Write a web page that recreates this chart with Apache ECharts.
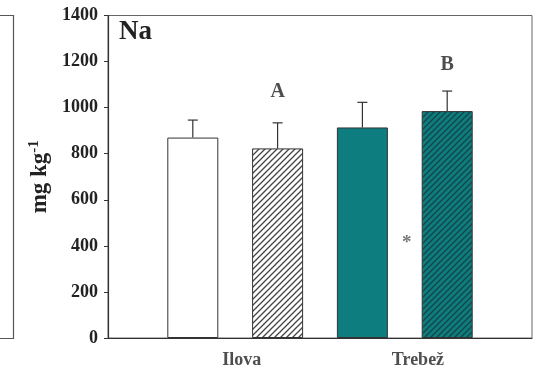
<!DOCTYPE html>
<html>
<head>
<meta charset="utf-8">
<script src="https://cdn.jsdelivr.net/npm/echarts@6/dist/echarts.min.js"></script>
<style>
  html, body { margin: 0; padding: 0; background: #fff; }
  #chart { width: 536px; height: 375px; }
</style>
</head>
<body>
<div id="chart"></div>
<script>
// Sodium content per site and treatment (mean, upper SD)
const groups = ['Ilova', 'Trebež'];
const means = [870, 823, 914, 985];
const sds = [76, 111, 109, 87];
const letters = ['', 'A', '', 'B'];
const yTicks = [0, 200, 400, 600, 800, 1000, 1200, 1400];

const SERIF = '"Liberation Serif", "Times New Roman", serif';
const TEAL = '#0e7d7f';
const INK = '#333';

// diagonal hatch tile ("/" direction)
function hatch(bg, line) {
  const s = 6;
  const c = document.createElement('canvas');
  c.width = s; c.height = s;
  const g = c.getContext('2d');
  g.fillStyle = bg;
  g.fillRect(0, 0, s, s);
  g.strokeStyle = line;
  g.lineWidth = 1.3;
  g.beginPath();
  g.moveTo(0, s); g.lineTo(s, 0);
  g.moveTo(-1, 1); g.lineTo(1, -1);
  g.moveTo(s - 1, s + 1); g.lineTo(s + 1, s - 1);
  g.stroke();
  return c;
}

const fills = [
  '#ffffff',
  { image: hatch('#ffffff', '#444'), repeat: 'repeat' },
  TEAL,
  { image: hatch(TEAL, '#154445'), repeat: 'repeat' }
];

// bars sit at x = 1..4, two per site
const xs = means.map((_, i) => i + 1);
const groupMid = groups.map((_, g) => (xs[2 * g] + xs[2 * g + 1]) / 2);

const barData = means.map((v, i) => ({
  value: [xs[i], v],
  itemStyle: { color: fills[i] }
}));

const errData = means.map((v, i) => [xs[i], v, v + sds[i]]);

const letterData = means
  .map((v, i) => ({ value: [xs[i], v + sds[i]], name: letters[i] }))
  .filter(d => d.name);

const frameLine = { show: true, onZero: false, lineStyle: { color: '#555', width: 1.2 } };

const chart = echarts.init(document.getElementById('chart'), null, { renderer: 'canvas' });

chart.setOption({
  animation: false,
  backgroundColor: '#fff',
  title: {
    text: 'Na',
    left: 119,
    top: 19,
    padding: 0,
    textStyle: { fontFamily: SERIF, fontWeight: 'bold', fontSize: 27, color: '#222' }
  },
  grid: [
    { left: 108, right: 4, top: 15.5, bottom: 37, show: true, borderColor: '#666', borderWidth: 1, backgroundColor: 'transparent' },
    // right edge of the neighbouring panel
    { left: 0, width: 13.5, top: 15.5, bottom: 37, show: false }
  ],
  xAxis: [
    {
      type: 'value', min: 0, max: 5, gridIndex: 0,
      axisLine: { show: true, lineStyle: { color: INK, width: 1.2 } },
      axisTick: { show: false },
      axisLabel: { show: false },
      splitLine: { show: false }
    },
    {
      type: 'value', gridIndex: 1, min: 0, max: 1, position: 'bottom',
      axisLine: frameLine, axisTick: { show: false }, axisLabel: { show: false }, splitLine: { show: false }
    },
    {
      type: 'value', gridIndex: 1, min: 0, max: 1, position: 'top',
      axisLine: frameLine, axisTick: { show: false }, axisLabel: { show: false }, splitLine: { show: false }
    }
  ],
  yAxis: [
    {
      type: 'value', min: 0, max: 1400, interval: 200, gridIndex: 0,
      name: '{a|mg kg}{s|-1}',
      nameLocation: 'middle',
      nameGap: 46,
      nameRotate: 90,
      nameTextStyle: {
        rich: {
          a: { fontFamily: SERIF, fontWeight: 'bold', fontSize: 23, color: '#222' },
          s: { fontFamily: SERIF, fontWeight: 'bold', fontSize: 15, color: '#222', verticalAlign: 'top', padding: [0, 0, 10, 0] }
        }
      },
      axisLine: { show: true, lineStyle: { color: INK, width: 1.2 } },
      axisTick: { show: true, length: 4, lineStyle: { color: INK } },
      axisLabel: {
        margin: 10,
        fontFamily: SERIF, fontWeight: 'bold', fontSize: 18, color: '#222',
        formatter: v => (yTicks.includes(v) ? String(v) : '')
      },
      splitLine: { show: false }
    },
    {
      type: 'value', gridIndex: 1, min: 0, max: 1, position: 'right',
      axisLine: frameLine, axisTick: { show: false }, axisLabel: { show: false }, splitLine: { show: false }
    }
  ],
  series: [
    {
      type: 'bar',
      xAxisIndex: 0, yAxisIndex: 0,
      barWidth: 51,
      data: barData,
      itemStyle: { borderColor: '#333', borderWidth: 1 }
    },
    {
      type: 'custom',
      xAxisIndex: 0, yAxisIndex: 0,
      data: errData,
      z: 3,
      renderItem: (params, api) => {
        const x = api.value(0);
        const base = api.coord([x, api.value(1)]);
        const top = api.coord([x, api.value(2)]);
        const cap = 5;
        const style = { stroke: '#333', lineWidth: 1.2 };
        return {
          type: 'group',
          children: [
            { type: 'line', shape: { x1: base[0], y1: base[1], x2: top[0], y2: top[1] }, style },
            { type: 'line', shape: { x1: top[0] - cap, y1: top[1], x2: top[0] + cap, y2: top[1] }, style }
          ]
        };
      }
    },
    {
      // significance letters above bars
      type: 'scatter',
      xAxisIndex: 0, yAxisIndex: 0,
      symbolSize: 1,
      itemStyle: { color: 'transparent' },
      data: letterData.map((d, k) => ({
        value: d.value, name: d.name,
        label: { distance: k === 0 ? 21 : 16 }
      })),
      label: {
        show: true, position: 'top',
        formatter: p => p.name,
        fontFamily: SERIF, fontWeight: 'bold', fontSize: 20, color: '#222'
      }
    },
    {
      // site names under the axis
      type: 'scatter',
      xAxisIndex: 0, yAxisIndex: 0,
      symbolSize: 1,
      itemStyle: { color: 'transparent' },
      data: groups.map((g, k) => ({ value: [groupMid[k], 0], name: g })),
      label: {
        show: true, position: 'bottom', distance: 13, align: 'left', offset: [-13, 0],
        formatter: p => p.name,
        fontFamily: SERIF, fontWeight: 'bold', fontSize: 18, color: '#222'
      }
    },
    {
      // asterisk between the Trebež bars
      type: 'scatter',
      xAxisIndex: 0, yAxisIndex: 0,
      symbolSize: 1,
      itemStyle: { color: 'transparent' },
      data: [{ value: [groupMid[1], 425], name: '*' }],
      label: {
        show: true, position: 'inside',
        formatter: p => p.name,
        fontFamily: SERIF, fontWeight: 'bold', fontSize: 19, color: '#555',
        offset: [2, 3]
      }
    }
  ]
});
</script>
</body>
</html>
